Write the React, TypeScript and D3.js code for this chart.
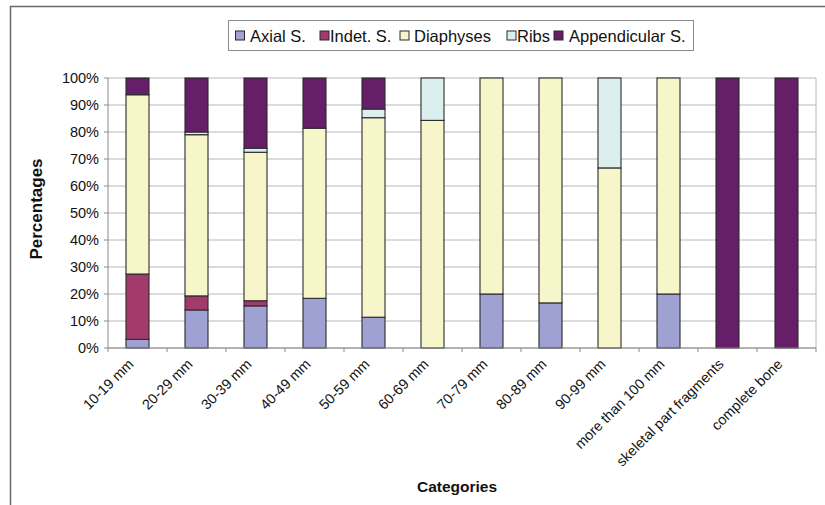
import React from "react";
import * as d3 from "d3";

// Fragment size / type categories along the x axis
const categories: string[] = [
  "10-19 mm",
  "20-29 mm",
  "30-39 mm",
  "40-49 mm",
  "50-59 mm",
  "60-69 mm",
  "70-79 mm",
  "80-89 mm",
  "90-99 mm",
  "more than 100 mm",
  "skeletal part fragments",
  "complete bone",
];

const seriesNames: string[] = ["Axial S.", "Indet. S.", "Diaphyses", "Ribs", "Appendicular S."];

// Percentages for each series, one value per category
const axial: number[] = [3.2, 14.1, 15.6, 18.4, 11.4, 0, 20, 16.7, 0, 20, 0, 0];
const indet: number[] = [24.2, 5.2, 1.9, 0, 0, 0, 0, 0, 0, 0, 0, 0];
const diaphyses: number[] = [66.4, 59.7, 55.0, 63.0, 73.9, 84.3, 80, 83.3, 66.7, 80, 0, 0];
const ribs: number[] = [0, 1.0, 1.5, 0, 3.2, 15.7, 0, 0, 33.3, 0, 0, 0];
const appendicular: number[] = [6.2, 20.0, 26.0, 18.6, 11.5, 0, 0, 0, 0, 0, 100, 100];

const yTicks: number[] = [0, 10, 20, 30, 40, 50, 60, 70, 80, 90, 100];

const colors: string[] = ["#9ea1d1", "#a23a6c", "#f7f6cb", "#dcefef", "#661e68"];

const W = 825;
const H = 505;
const margin = { left: 108, right: 9, top: 78, bottom: 157 };

export default function App() {
  const values = [axial, indet, diaphyses, ribs, appendicular];
  const table = categories.map((c, i) => {
    const row: Record<string, number | string> = { category: c };
    seriesNames.forEach((s, k) => (row[s] = values[k][i]));
    return row;
  });
  const stacked = d3.stack<Record<string, number | string>>().keys(seriesNames)(table as any);

  const x = d3
    .scaleBand<string>()
    .domain(categories)
    .range([margin.left, W - margin.right])
    .paddingInner(0.61)
    .paddingOuter(0.305);
  const xOuter = d3.scaleBand<string>().domain(categories).range([margin.left, W - margin.right]);
  const y = d3.scaleLinear().domain([0, 100]).range([H - margin.bottom, margin.top]);

  const left = margin.left;
  const right = W - margin.right;
  const bottom = y(0);
  const top = y(100);

  const legendSquares = [235.5, 320, 400, 507, 554];
  const legendText = [250, 330, 414, 517, 569];

  return (
    <div style={{ position: "absolute", left: 0, top: 0 }}>
      <svg width={W} height={H} style={{ display: "block", fontFamily: "'Liberation Sans', Arial, sans-serif" }}>
        <rect x={0} y={0} width={W} height={H} fill="#fff" />
        {/* outer chart frame */}
        <rect x={10.5} y={6.5} width={W + 10} height={H + 10} fill="none" stroke="#6a6a6a" strokeWidth={1.5} />

        {/* gridlines */}
        {yTicks.map((t) => (
          <line key={t} x1={left} x2={right} y1={y(t)} y2={y(t)} stroke="#b8b8b8" strokeWidth={1} />
        ))}
        <line x1={right} x2={right} y1={top} y2={bottom} stroke="#b8b8b8" strokeWidth={1} />

        {/* bars */}
        {stacked.map((layer, k) =>
          layer.map((d, i) => {
            const h = y(d[0]) - y(d[1]);
            if (h <= 0.01) return null;
            return (
              <rect
                key={`${k}-${i}`}
                x={x(categories[i])!}
                y={y(d[1])}
                width={x.bandwidth()}
                height={h}
                fill={colors[k]}
                stroke="#2b2b2b"
                strokeWidth={1.1}
              />
            );
          })
        )}

        {/* axes */}
        <line x1={left} x2={left} y1={top} y2={bottom} stroke="#8a8a8a" strokeWidth={1} />
        <line x1={left} x2={right} y1={bottom} y2={bottom} stroke="#8a8a8a" strokeWidth={1} />
        {yTicks.map((t) => (
          <g key={`yt${t}`}>
            <line x1={left - 4} x2={left} y1={y(t)} y2={y(t)} stroke="#8a8a8a" />
            <text x={left - 9} y={y(t)} dy="0.36em" textAnchor="end" fontSize={14.5} fill="#111">
              {t}%
            </text>
          </g>
        ))}
        {categories.map((c) => (
          <line
            key={`xt${c}`}
            x1={xOuter(c)!}
            x2={xOuter(c)!}
            y1={bottom}
            y2={bottom + 4}
            stroke="#8a8a8a"
          />
        ))}
        <line x1={right} x2={right} y1={bottom} y2={bottom + 4} stroke="#8a8a8a" />
        {categories.map((c) => {
          const cx = x(c)! + x.bandwidth() / 2 - 3;
          const cy = bottom + 17;
          return (
            <text
              key={`xl${c}`}
              x={cx}
              y={cy}
              textAnchor="end"
              fontSize={14.3}
              fill="#111"
              transform={`rotate(-45 ${cx} ${cy})`}
            >
              {c}
            </text>
          );
        })}

        {/* axis titles */}
        <text
          x={42}
          y={209}
          textAnchor="middle"
          fontSize={17}
          fontWeight="bold"
          fill="#111"
          transform="rotate(-90 42 209)"
        >
          Percentages
        </text>
        <text x={457} y={492} textAnchor="middle" fontSize={15.5} fontWeight="bold" fill="#111">
          Categories
        </text>

        {/* legend */}
        <rect x={228.5} y={20.5} width={465} height={30} fill="#fff" stroke="#8a8a8a" strokeWidth={1} />
        {seriesNames.map((s, k) => (
          <g key={`lg${s}`}>
            <rect x={legendSquares[k]} y={31} width={9} height={9} fill={colors[k]} stroke="#2b2b2b" strokeWidth={1} />
            <text x={legendText[k]} y={41.5} fontSize={16.5} fill="#111">
              {s}
            </text>
          </g>
        ))}
      </svg>
    </div>
  );
}
